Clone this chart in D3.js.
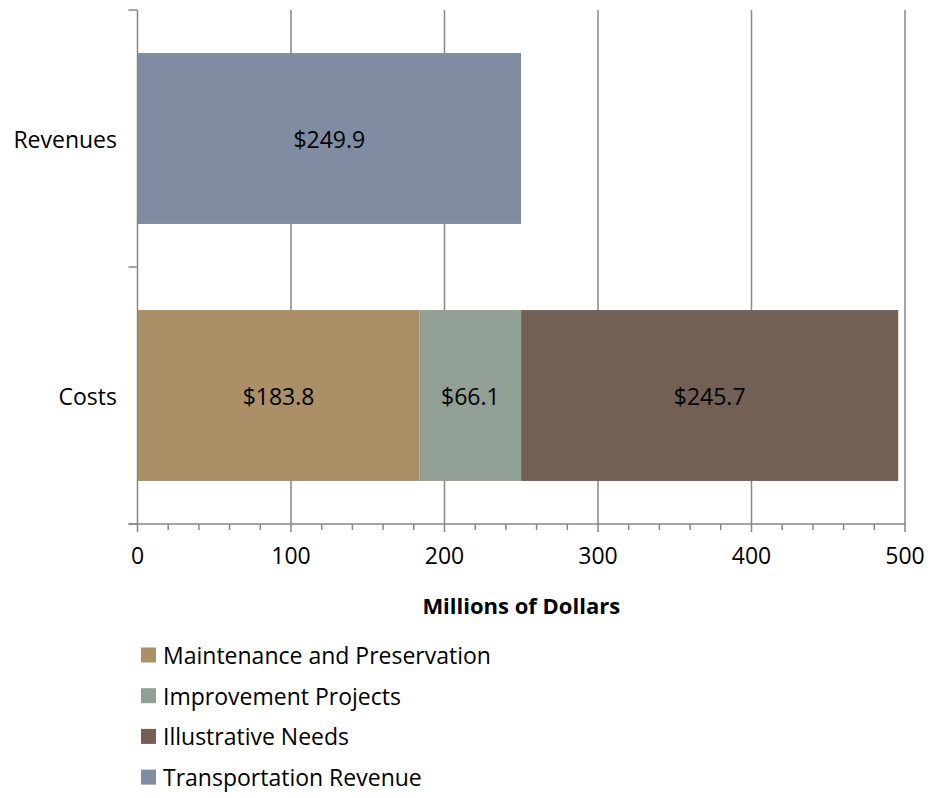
<!DOCTYPE html>
<html><head><meta charset="utf-8">
<script src="https://cdn.jsdelivr.net/npm/d3@7"></script>
<style>body{margin:0;background:#fff;} text{font-family:"Open Sans",sans-serif;}</style>
</head><body>
<svg id="c" width="934" height="798"></svg>
<script>
const categories = ["Revenues", "Costs"];
const seriesNames = ["Maintenance and Preservation", "Improvement Projects", "Illustrative Needs", "Transportation Revenue"];
const maintenance = [0, 183.8];
const improvement = [0, 66.1];
const illustrative = [0, 245.7];
const revenue = [249.9, 0];
const xTicks = [0, 100, 200, 300, 400, 500];
const colors = ["#AB8F66", "#919F94", "#736055", "#7F8CA2"];

(function(){
const svg = d3.select("#c");
const pL = 137.5, pR = 905, pT = 10, pB = 524;
const x = d3.scaleLinear().domain([0, 500]).range([pL, pR]);
const y = d3.scaleBand().domain(categories).range([pT, pB]).paddingInner(0.335).paddingOuter(0.1675);
const yCat = d3.scaleBand().domain(categories).range([pT, pB]);
const fs = 23;

svg.append("g").selectAll("line").data(xTicks.filter(d => d > 0)).join("line")
  .attr("x1", d => x(d)).attr("x2", d => x(d)).attr("y1", pT).attr("y2", pB)
  .attr("stroke", "#878787").attr("stroke-width", 1.5);

const seriesVals = [maintenance, improvement, illustrative, revenue];
const rows = categories.map((c, i) => { const o = {cat: c}; seriesNames.forEach((s, j) => o[s] = seriesVals[j][i]); return o; });
const stack = d3.stack().keys(seriesNames)(rows);
const g = svg.append("g");
stack.forEach((layer, j) => {
  layer.forEach(d => {
    if (d[1] - d[0] <= 0) return;
    g.append("rect").attr("x", x(d[0])).attr("width", x(d[1]) - x(d[0]))
      .attr("y", y(d.data.cat)).attr("height", y.bandwidth()).attr("fill", colors[j]);
    g.append("text").attr("x", (x(d[0]) + x(d[1])) / 2).attr("y", y(d.data.cat) + y.bandwidth() / 2)
      .attr("text-anchor", "middle").attr("dominant-baseline", "central")
      .attr("font-size", fs).attr("fill", "#000").text("$" + (d[1] - d[0]).toFixed(1));
  });
});

const xa = svg.append("g");
xa.append("line").attr("x1", pL - 9).attr("x2", pR).attr("y1", pB).attr("y2", pB).attr("stroke", "#878787").attr("stroke-width", 1.5);
const minor = d3.range(0, 501, 20);
xa.selectAll("line.m").data(minor).join("line").attr("class", "m")
  .attr("x1", d => x(d)).attr("x2", d => x(d)).attr("y1", pB).attr("y2", d => d % 100 === 0 ? pB + 8 : pB + 6)
  .attr("stroke", "#878787").attr("stroke-width", 1.5);
xa.selectAll("text").data(xTicks).join("text")
  .attr("x", d => x(d)).attr("y", 555).attr("text-anchor", "middle").attr("dominant-baseline", "central")
  .attr("font-size", fs).attr("fill", "#000").text(d => d);
svg.append("text").attr("x", (pL + pR) / 2).attr("y", 605).attr("text-anchor", "middle").attr("dominant-baseline", "central")
  .attr("font-size", 22).attr("font-weight", "bold").attr("fill", "#000").text("Millions of Dollars");

const ya = svg.append("g");
ya.append("line").attr("x1", pL).attr("x2", pL).attr("y1", pT).attr("y2", pB).attr("stroke", "#878787").attr("stroke-width", 1.5);
const yTickPos = [pT, yCat("Costs"), pB];
ya.selectAll("line.t").data(yTickPos).join("line").attr("class", "t")
  .attr("x1", pL - 9).attr("x2", pL).attr("y1", d => d).attr("y2", d => d).attr("stroke", "#878787").attr("stroke-width", 1.5);
ya.selectAll("text").data(categories).join("text")
  .attr("x", 117).attr("y", d => yCat(d) + yCat.bandwidth() / 2).attr("text-anchor", "end").attr("dominant-baseline", "central")
  .attr("font-size", fs).attr("fill", "#000").text(d => d);

const lg = svg.append("g");
seriesNames.forEach((s, i) => {
  const cy = 655 + i * 40.7;
  lg.append("rect").attr("x", 141).attr("y", cy - 7.5).attr("width", 15).attr("height", 15).attr("fill", colors[i]);
  lg.append("text").attr("x", 163).attr("y", cy).attr("dominant-baseline", "central")
    .attr("font-size", fs).attr("fill", "#000").text(s);
});
})();
</script>
</body></html>
